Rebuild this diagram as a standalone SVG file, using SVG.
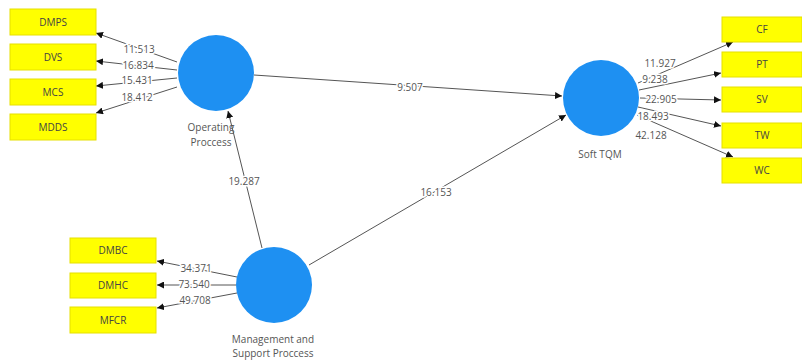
<svg xmlns="http://www.w3.org/2000/svg" width="802" height="363" viewBox="0 0 802 363">
<defs>
<marker id="ah" viewBox="0 0 10 10" refX="10" refY="5" markerWidth="7" markerHeight="7" markerUnits="userSpaceOnUse" orient="auto">
<path d="M0,0 L10,5 L0,10 z" fill="#111"/>
</marker>
<style>
.box{fill:#FFFF00;stroke:#E6E000;stroke-width:1}
.bt{font-family:"Open Sans","Liberation Sans",sans-serif;font-size:10px;fill:#444;text-anchor:middle}
.lv{fill:#1E90F2}
.lt{font-family:"Open Sans","Liberation Sans",sans-serif;font-size:10px;fill:#555;text-anchor:middle}
.e{stroke:#555;stroke-width:1;fill:none;marker-end:url(#ah)}
.el{font-family:"Open Sans","Liberation Sans",sans-serif;font-size:10px;fill:#555;text-anchor:middle;stroke:#fff;stroke-width:3;paint-order:stroke}
</style>
</defs>
<rect width="802" height="363" fill="#fff"/>
<g id="connectors">
<line class="e" x1="177" y1="62" x2="96" y2="33"/>
<line class="e" x1="177" y1="70" x2="96" y2="61"/>
<line class="e" x1="177" y1="78" x2="96" y2="86"/>
<line class="e" x1="177" y1="87" x2="96" y2="113"/>
<line class="e" x1="638" y1="83" x2="733" y2="42"/>
<line class="e" x1="639" y1="90" x2="721" y2="73"/>
<line class="e" x1="640" y1="98" x2="721" y2="100"/>
<line class="e" x1="638" y1="107" x2="721" y2="126"/>
<line class="e" x1="637" y1="115" x2="733" y2="157"/>
<line class="e" x1="237" y1="277" x2="157" y2="261"/>
<line class="e" x1="236" y1="285" x2="157" y2="285"/>
<line class="e" x1="237" y1="293" x2="157" y2="308"/>
<line class="e" x1="262" y1="248" x2="228" y2="111"/>
<line class="e" x1="309" y1="265" x2="566" y2="115"/>
<line class="e" x1="254" y1="75" x2="562" y2="96"/>
<text class="el" x="139" y="53">11.513</text>
<text class="el" x="138" y="69">16.834</text>
<text class="el" x="137" y="84">15.431</text>
<text class="el" x="137" y="101">18.412</text>
<text class="el" x="660" y="67">11.927</text>
<text class="el" x="655" y="83">9.238</text>
<text class="el" x="661" y="103">22.905</text>
<text class="el" x="653" y="120">18.493</text>
<text class="el" x="651" y="139">42.128</text>
<text class="el" x="196" y="272">34.371</text>
<text class="el" x="194" y="288">73.540</text>
<text class="el" x="195" y="304">49.708</text>
<text class="el" x="244" y="185">19.287</text>
<text class="el" x="436" y="196">16.153</text>
<text class="el" x="410" y="91">9.507</text>
</g>
<g id="DMPS"><rect class="box" x="10" y="9" width="86" height="26"/><text class="bt" x="53" y="26">DMPS</text></g>
<g id="DVS"><rect class="box" x="10" y="44" width="86" height="26"/><text class="bt" x="53" y="61">DVS</text></g>
<g id="MCS"><rect class="box" x="10" y="79" width="86" height="26"/><text class="bt" x="53" y="96">MCS</text></g>
<g id="MDDS"><rect class="box" x="10" y="114" width="86" height="26"/><text class="bt" x="53" y="131">MDDS</text></g>
<g id="CF"><rect class="box" x="722" y="17" width="80" height="25"/><text class="bt" x="762" y="33">CF</text></g>
<g id="PT"><rect class="box" x="722" y="52" width="80" height="25"/><text class="bt" x="762" y="68">PT</text></g>
<g id="SV"><rect class="box" x="722" y="87" width="80" height="25"/><text class="bt" x="762" y="103">SV</text></g>
<g id="TW"><rect class="box" x="722" y="123" width="80" height="25"/><text class="bt" x="762" y="139">TW</text></g>
<g id="WC"><rect class="box" x="722" y="158" width="80" height="25"/><text class="bt" x="762" y="174">WC</text></g>
<g id="DMBC"><rect class="box" x="70" y="238" width="86" height="25"/><text class="bt" x="113" y="254">DMBC</text></g>
<g id="DMHC"><rect class="box" x="70" y="273" width="86" height="25"/><text class="bt" x="113" y="289">DMHC</text></g>
<g id="MFCR"><rect class="box" x="70" y="307" width="86" height="26"/><text class="bt" x="113" y="324">MFCR</text></g>
<g id="operating-proccess"><circle class="lv" cx="216" cy="73" r="38"/><text class="lt" x="211" y="131">Operating</text><text class="lt" x="211" y="146">Proccess</text></g>
<g id="soft-tqm"><circle class="lv" cx="601" cy="98" r="38"/><text class="lt" x="600" y="158">Soft TQM</text></g>
<g id="management"><circle class="lv" cx="274" cy="285" r="38"/><text class="lt" x="273" y="343">Management and</text><text class="lt" x="273" y="357">Support Proccess</text></g>
</svg>
